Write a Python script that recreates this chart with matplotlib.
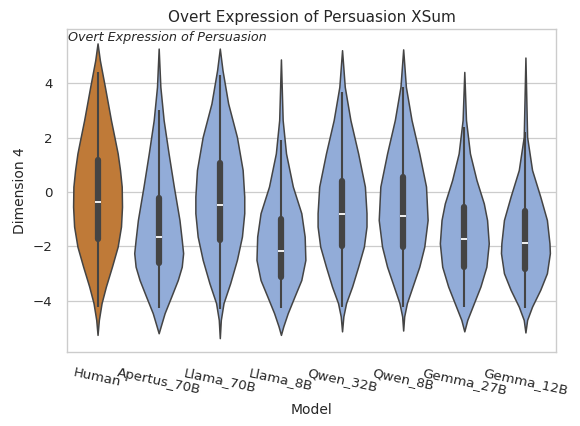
import numpy as np
import matplotlib
matplotlib.use("Agg")
import matplotlib.pyplot as plt

models = ["Human", "Apertus_70B", "Llama_70B", "Llama_8B", "Qwen_32B", "Qwen_8B", "Gemma_27B", "Gemma_12B"]
colors = ["#BF7A38"] + ["#92ACD8"] * 7

# density profiles (y levels, relative density)
human_y = [5.47, 4.85, 3.87, 2.65, 2.03, 1.42, 0.81, 0.20, -0.54, -1.27, -2.01, -2.75, -3.48, -4.09, -4.71, -5.26]
human_d = [0.0, 2.3, 7.3, 13.3, 16.7, 20.0, 22.3, 24.0, 24.3, 23.3, 20.0, 14.3, 8.3, 4.0, 1.3, 0.0]
apertus_y = [5.28, 3.87, 2.65, 1.42, 0.20, -1.03, -1.76, -2.25, -2.75, -3.24, -3.85, -4.46, -4.95, -5.20]
apertus_d = [0.0, 1.7, 5.0, 10.0, 15.3, 21.0, 23.3, 24.7, 23.3, 19.3, 12.7, 6.0, 2.0, 0.0]
llama70_y = [5.28, 4.48, 3.26, 2.03, 0.81, -0.17, -0.78, -1.64, -2.50, -3.36, -4.09, -4.71, -5.38]
llama70_d = [0.0, 2.7, 8.3, 17.0, 22.7, 24.3, 24.3, 22.0, 17.0, 10.3, 3.7, 1.0, 0.0]
llama8_y = [4.88, 2.65, 1.42, 0.20, -0.78, -1.64, -2.50, -3.24, -3.85, -4.46, -4.95, -5.26]
llama8_d = [0.0, 1.7, 5.0, 11.7, 20.0, 23.3, 24.0, 20.0, 13.3, 6.7, 2.3, 0.0]
qwen32_y = [5.22, 3.87, 2.65, 1.42, 0.20, -0.78, -1.27, -2.01, -2.75, -3.48, -4.09, -4.58, -5.13]
qwen32_d = [0.0, 2.7, 8.3, 16.0, 22.7, 24.3, 24.3, 21.7, 16.0, 10.0, 4.0, 1.3, 0.0]
qwen8_y = [5.25, 3.87, 2.65, 1.42, 0.20, -1.03, -2.01, -2.75, -3.48, -4.09, -4.58, -5.10]
qwen8_d = [0.0, 2.7, 8.3, 16.0, 22.7, 24.3, 21.0, 16.0, 9.3, 3.7, 1.0, 0.0]
gemma27_y = [4.42, 2.65, 1.42, 0.44, -0.42, -1.03, -1.89, -2.75, -3.48, -4.09, -4.71, -5.13]
gemma27_d = [0.0, 1.7, 5.7, 12.3, 19.7, 23.0, 24.7, 22.3, 16.3, 9.7, 3.0, 0.0]
gemma12_y = [4.95, 2.03, 0.81, -0.17, -1.03, -1.89, -2.25, -2.99, -3.60, -4.22, -4.71, -5.17]
gemma12_d = [0.0, 1.7, 6.7, 15.0, 21.7, 24.3, 24.7, 21.7, 15.0, 6.7, 1.7, 0.0]

profiles_y = [human_y, apertus_y, llama70_y, llama8_y, qwen32_y, qwen8_y, gemma27_y, gemma12_y]
profiles_d = [human_d, apertus_d, llama70_d, llama8_d, qwen32_d, qwen8_d, gemma27_d, gemma12_d]

# box statistics
medians = [-0.38, -1.64, -0.49, -2.17, -0.82, -0.88, -1.72, -1.86]
q1 = [-1.74, -2.62, -1.76, -3.14, -1.99, -2.01, -2.75, -2.84]
q3 = [1.18, -0.23, 1.05, -1.00, 0.42, 0.56, -0.56, -0.69]
whisker_lo = [-4.22, -4.28, -4.30, -4.28, -4.22, -4.22, -4.24, -4.27]
whisker_hi = [4.42, 3.01, 4.30, 1.91, 3.69, 3.87, 2.40, 2.22]

fig = plt.figure(figsize=(5.8, 4.26), dpi=100)
ax = fig.add_axes([0.1155, 0.1737, 0.8431, 0.7582])
ax.set_facecolor("white")

positions = np.arange(len(models))
vpstats = []
for ys, ds, med in zip(profiles_y, profiles_d, medians):
    ys = np.array(ys)[::-1]
    ds = np.array(ds)[::-1]
    vpstats.append(dict(coords=ys, vals=ds, mean=med, median=med, min=ys.min(), max=ys.max()))

parts = ax.violin(vpstats, positions=positions, widths=0.8, showmeans=False,
                  showextrema=False, showmedians=False)
for body, c in zip(parts["bodies"], colors):
    body.set_facecolor(c)
    body.set_edgecolor("#444444")
    body.set_linewidth(1.1)
    body.set_alpha(1)
    body.set_zorder(2)

ax.vlines(positions, whisker_lo, whisker_hi, color="#444444", linewidth=1.5, zorder=3)
ax.vlines(positions, q1, q3, color="#444444", linewidth=4.5, zorder=3, capstyle="round")
ax.plot(positions, medians, linestyle="none", marker="_", markersize=4.5,
        markeredgewidth=1.3, color="white", zorder=4)

ax.set_xlim(-0.5, 7.5)
ax.set_ylim(-5.89, 6.0)
ax.set_yticks([-4, -2, 0, 2, 4])
ax.set_yticklabels(["\u22124", "\u22122", "0", "2", "4"])
ax.set_xticks(positions)
ax.set_xticklabels(models, rotation=-12, ha="center")
ax.tick_params(axis="both", length=6, labelsize=9.6, labelcolor="#262626", pad=4.4,
               bottom=False, left=False)
ax.grid(axis="y", color="#cccccc", linewidth=0.9, zorder=0)
ax.grid(axis="x", visible=False)
ax.set_axisbelow(True)
for s in ax.spines.values():
    s.set_color("#cccccc")
    s.set_linewidth(1.0)

ax.set_xlabel("Model", fontsize=10, color="#262626", labelpad=4)
ax.set_ylabel("Dimension 4", fontsize=10, color="#262626", labelpad=4)
ax.set_title("Overt Expression of Persuasion XSum", fontsize=11, color="#262626", pad=5)
ax.text(0.003, 0.993, "Overt Expression of Persuasion", transform=ax.transAxes,
        fontsize=9.2, fontstyle="italic", color="#262626", ha="left", va="top")

fig.savefig("out.png", dpi=100)
